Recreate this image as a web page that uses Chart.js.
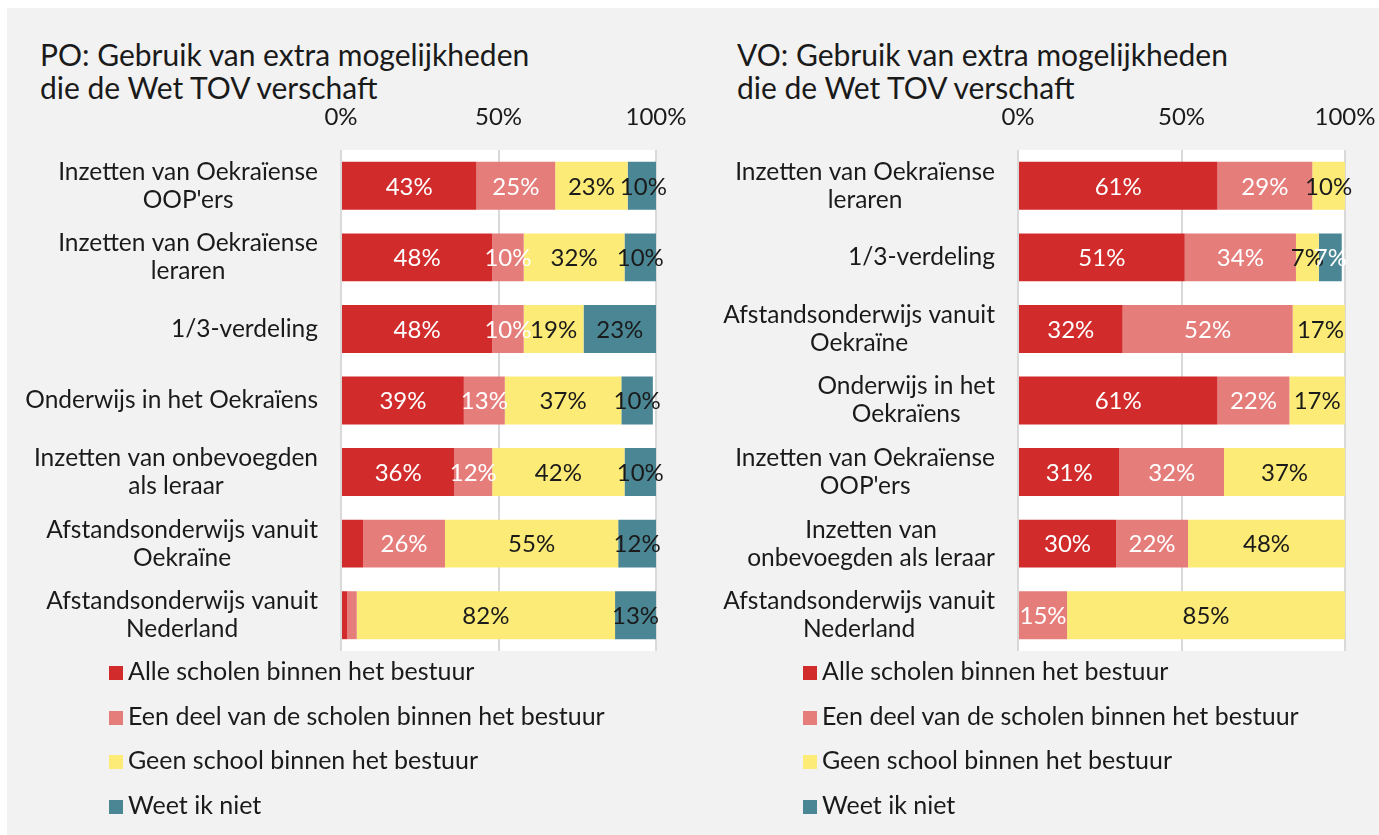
<!DOCTYPE html>
<html>
<head>
<meta charset="utf-8">
<script src="https://cdn.jsdelivr.net/npm/chart.js@4.4.0/dist/chart.umd.min.js"></script>
<style>
  html, body { margin: 0; padding: 0; background: #fff; width: 1379px; height: 835px; overflow: hidden; font-family: Lato, sans-serif; color: #1a1a1a; }
  #panel { position: absolute; left: 7px; top: 8px; right: 0; bottom: 0; background: #f2f2f2; }
  .title { position: absolute; top: 38px; font-size: 30px; line-height: 33px; white-space: nowrap; }
  .chartbox { position: absolute; top: 100px; height: 555px; }
  .legend { position: absolute; top: 648px; font-size: 25px; }
  .legend div { height: 44.7px; line-height: 44.7px; white-space: nowrap; }
  .legend span { display: inline-block; width: 14px; height: 14px; margin-right: 5px; vertical-align: 0px; }
</style>
</head>
<body>
<div id="panel"></div>
<div class="title" style="left:40px">PO: Gebruik van extra mogelijkheden<br>die de Wet TOV verschaft</div>
<div class="title" style="left:737px">VO: Gebruik van extra mogelijkheden<br>die de Wet TOV verschaft</div>
<div class="chartbox" style="left:7px;width:683px"><canvas id="po"></canvas></div>
<div class="chartbox" style="left:690px;width:689px"><canvas id="vo"></canvas></div>
<div class="legend" id="legPO" style="left:109px"></div>
<div class="legend" id="legVO" style="left:803px"></div>
<script>
const seriesNames = ['Alle scholen binnen het bestuur', 'Een deel van de scholen binnen het bestuur', 'Geen school binnen het bestuur', 'Weet ik niet'];
const colors = ['#d12b2b', '#e57d7b', '#fdeb77', '#4a8694'];
const xTicks = [0, 50, 100];

const poLabels = [
    ['Inzetten van Oekraïense', "OOP'ers"],
    ['Inzetten van Oekraïense', 'leraren'],
    '1/3-verdeling',
    'Onderwijs in het Oekraïens',
    ['Inzetten van onbevoegden', 'als leraar'],
    ['Afstandsonderwijs vanuit', 'Oekraïne'],
    ['Afstandsonderwijs vanuit', 'Nederland']
];
const poAlle = [43, 48, 48, 39, 36, 7, 2];
const poDeel = [25, 10, 10, 13, 12, 26, 3];
const poGeen = [23, 32, 19, 37, 42, 55, 82];
const poWeet = [10, 10, 23, 10, 10, 12, 13];

const voLabels = [
    ['Inzetten van Oekraïense', 'leraren'],
    '1/3-verdeling',
    ['Afstandsonderwijs vanuit', 'Oekraïne'],
    ['Onderwijs in het', 'Oekraïens'],
    ['Inzetten van Oekraïense', "OOP'ers"],
    ['Inzetten van', 'onbevoegden als leraar'],
    ['Afstandsonderwijs vanuit', 'Nederland']
];
const voAlle = [61, 51, 32, 61, 31, 30, 0];
const voDeel = [29, 34, 52, 22, 32, 22, 15];
const voGeen = [10, 7, 17, 17, 37, 48, 85];
const voWeet = [0, 7, 0, 0, 0, 0, 0];

Chart.defaults.font.family = 'Lato';
Chart.defaults.font.size = 24;
Chart.defaults.color = '#1a1a1a';

const plotBg = {
    id: 'plotBg',
    beforeDraw(chart) {
        const a = chart.chartArea, ctx = chart.ctx;
        ctx.save();
        ctx.fillStyle = '#fff';
        ctx.fillRect(a.left, a.top, a.right - a.left, a.bottom - a.top);
        ctx.restore();
    }
};

// category labels: block right aligned, lines centred within the block
const catLabels = {
    id: 'catLabels',
    afterDraw(chart) {
        const y = chart.scales.y, ctx = chart.ctx;
        ctx.save();
        ctx.font = '24.5px Lato';
        ctx.fillStyle = '#1a1a1a';
        ctx.textAlign = 'center';
        ctx.textBaseline = 'middle';
        chart.data.labels.forEach((lab, i) => {
            const lines = [].concat(lab);
            const w = Math.max(...lines.map(l => ctx.measureText(l).width));
            const cx = y.right - 23 - w / 2;
            const cy = y.getPixelForTick(i);
            lines.forEach((l, k) => ctx.fillText(l, cx, cy + (k - (lines.length - 1) / 2) * 28));
        });
        ctx.restore();
    }
};

const barLabels = {
    id: 'barLabels',
    afterDatasetsDraw(chart, args, opts) {
        const ctx = chart.ctx;
        ctx.save();
        ctx.font = '24px Lato';
        ctx.textAlign = 'center';
        ctx.textBaseline = 'middle';
        chart.data.datasets.forEach((ds, di) => {
            chart.getDatasetMeta(di).data.forEach((bar, i) => {
                const v = ds.data[i];
                if (v < opts.min) return;
                ctx.fillStyle = opts.colors[di];
                ctx.fillText(v + '%', (bar.x + bar.base) / 2, bar.y + 1);
            });
        });
        ctx.restore();
    }
};

function makeChart(id, labels, series, yWidth, minLabel, labelColors) {
    new Chart(document.getElementById(id), {
        type: 'bar',
        data: {
            labels: labels,
            datasets: series.map((d, i) => ({
                label: seriesNames[i],
                data: d,
                backgroundColor: colors[i],
                borderWidth: 0,
                barPercentage: 0.67,
                categoryPercentage: 1
            }))
        },
        options: {
            indexAxis: 'y',
            responsive: true,
            maintainAspectRatio: false,
            animation: false,
            layout: { padding: { left: 0, right: 34, top: 0, bottom: 4 } },
            scales: {
                x: {
                    position: 'top',
                    stacked: true,
                    min: 0,
                    max: 100,
                    afterBuildTicks: s => { s.ticks = xTicks.map(v => ({ value: v })); },
                    afterFit: s => {
                        s.height = 50;
                        s.paddingLeft = 0;
                        s.paddingRight = 0;
                    },
                    ticks: { padding: 18, callback: v => v + '%' },
                    grid: { color: '#d9d9d9', lineWidth: 2, drawTicks: false },
                    border: { display: false }
                },
                y: {
                    stacked: true,
                    afterFit: s => { s.width = yWidth; },
                    ticks: { display: false },
                    grid: { display: false },
                    border: { display: false }
                }
            },
            plugins: {
                legend: { display: false },
                tooltip: { enabled: false },
                barLabels: { min: minLabel, colors: labelColors }
            }
        },
        plugins: [plotBg, catLabels, barLabels]
    });
}

makeChart('po', poLabels, [poAlle, poDeel, poGeen, poWeet], 334, 8, ['#fff', '#fff', '#1a1a1a', '#1a1a1a']);
makeChart('vo', voLabels, [voAlle, voDeel, voGeen, voWeet], 328, 5, ['#fff', '#fff', '#1a1a1a', '#fff']);

['legPO', 'legVO'].forEach(id => {
    const el = document.getElementById(id);
    seriesNames.forEach((n, i) => {
        const row = document.createElement('div');
        const sw = document.createElement('span');
        sw.style.background = colors[i];
        row.appendChild(sw);
        row.appendChild(document.createTextNode(n));
        el.appendChild(row);
    });
});
</script>
</body>
</html>
